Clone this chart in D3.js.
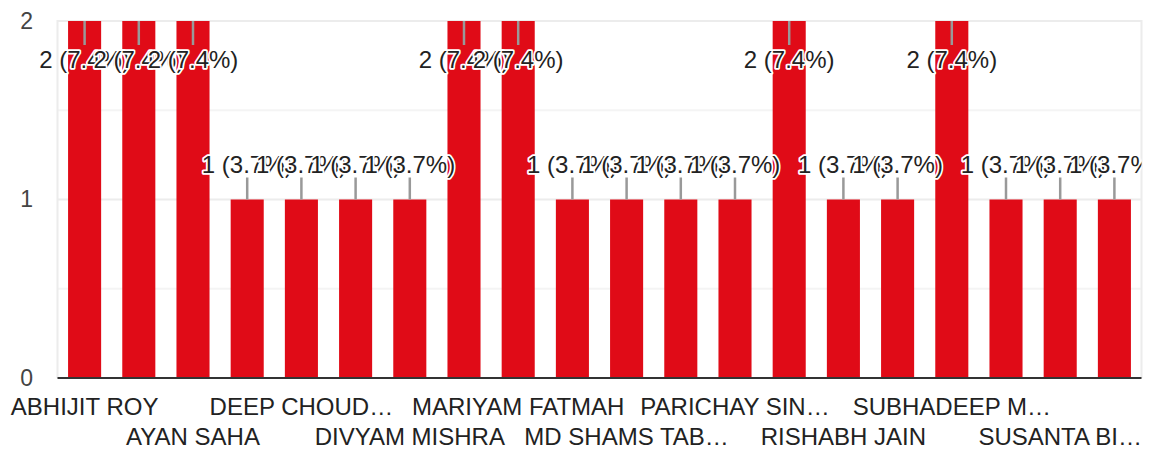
<!DOCTYPE html>
<html>
<head>
<meta charset="utf-8">
<script src="https://cdn.jsdelivr.net/npm/d3@7"></script>
<style>
  html, body { margin: 0; padding: 0; background: #fff; }
  svg { display: block; font-family: "Liberation Sans", Arial, sans-serif; }
</style>
</head>
<body>
<svg id="chart" width="1150" height="450"></svg>
<script>
// ---- data ----
const categories = [
  "ABHIJIT ROY", "", "AYAN SAHA", "", "DEEP CHOUD\u2026", "", "DIVYAM MISHRA", "",
  "MARIYAM FATMAH", "", "MD SHAMS TAB\u2026", "", "PARICHAY SIN\u2026", "", "RISHABH JAIN", "",
  "SUBHADEEP M\u2026", "", "SUSANTA BI\u2026", ""
];
const values = [2, 2, 2, 1, 1, 1, 1, 2, 2, 1, 1, 1, 1, 2, 1, 1, 2, 1, 1, 1];
const percentLabels = values.map(v => v === 2 ? "7.4%" : "3.7%");
const yTicks = [0, 1, 2];
const yGrid = [0.5, 1, 1.5, 2];

// ---- layout ----
const W = 1150, H = 450;
const plotLeft = 57.5, plotRight = 1141.5, plotTop = 21, plotBottom = 378;
const svg = d3.select("#chart");

const x = d3.scaleBand().domain(d3.range(values.length)).range([plotLeft, plotRight])
  .paddingInner(0.39).paddingOuter(0.195);
const y = d3.scaleLinear().domain([0, 2]).range([plotBottom, plotTop]);

// frame + gridlines
const g = svg.append("g");
g.selectAll("line.grid").data(yGrid).join("line")
  .attr("x1", plotLeft).attr("x2", plotRight)
  .attr("y1", d => y(d)).attr("y2", d => y(d))
  .attr("stroke", d => Number.isInteger(d) ? "#ececec" : "#f4f4f4")
  .attr("stroke-width", 2);
g.append("line").attr("x1", plotLeft).attr("x2", plotLeft).attr("y1", plotTop - 1).attr("y2", plotBottom)
  .attr("stroke", "#ececec").attr("stroke-width", 2);
g.append("line").attr("x1", plotRight).attr("x2", plotRight).attr("y1", plotTop - 1).attr("y2", plotBottom)
  .attr("stroke", "#ececec").attr("stroke-width", 2);

// bars
svg.append("g").selectAll("rect").data(values).join("rect")
  .attr("x", (d, i) => x(i))
  .attr("y", d => y(d))
  .attr("width", x.bandwidth())
  .attr("height", d => y(0) - y(d))
  .attr("fill", "#e00b17");

// baseline
svg.append("line").attr("x1", plotLeft).attr("x2", plotRight)
  .attr("y1", y(0)).attr("y2", y(0))
  .attr("stroke", "#333").attr("stroke-width", 2);

// y axis
const yAxis = svg.append("g").attr("transform", "translate(33,0)")
  .call(d3.axisLeft(y).tickValues(yTicks).tickSize(0).tickPadding(0).tickFormat(d3.format("d")));
yAxis.select(".domain").remove();
yAxis.selectAll("text").attr("font-size", 23).attr("fill", "#444")
  .attr("font-family", "Liberation Sans, Arial, sans-serif");

// x axis (alternating rows)
const xAxis = svg.append("g").attr("transform", `translate(0,${plotBottom})`)
  .call(d3.axisBottom(x).tickSize(0).tickFormat(i => categories[i]));
xAxis.select(".domain").remove();
xAxis.selectAll("text")
  .attr("font-size", 24).attr("fill", "#222")
  .attr("font-family", "Liberation Sans, Arial, sans-serif")
  .attr("dy", null)
  .attr("y", (d, i) => (i % 4 === 0) ? 36.5 : 67);

// annotations
svg.append("defs").append("clipPath").attr("id", "plotclip")
  .append("rect").attr("x", 0).attr("y", 0).attr("width", plotRight).attr("height", H);
const ann = svg.append("g").attr("clip-path", "url(#plotclip)");
values.forEach((v, i) => {
  const cx = x(i) + x.bandwidth() / 2;
  const inside = y(v) - 50 < plotTop;
  const a = ann.append("g");
  a.append("line")
    .attr("x1", cx).attr("x2", cx)
    .attr("y1", y(v)).attr("y2", inside ? y(v) + 24 : y(v) - 22)
    .attr("stroke", "#999").attr("stroke-width", 2.5);
  a.append("text")
    .attr("x", cx)
    .attr("y", inside ? y(v) + 46.5 : y(v) - 26.5)
    .attr("text-anchor", "middle")
    .attr("font-size", 24)
    .attr("fill", "#222")
    .attr("stroke", "#fff").attr("stroke-width", 3.5)
    .attr("stroke-linejoin", "round")
    .attr("paint-order", "stroke")
    .text(`${v} (${percentLabels[i]})`);
});
</script>
</body>
</html>
